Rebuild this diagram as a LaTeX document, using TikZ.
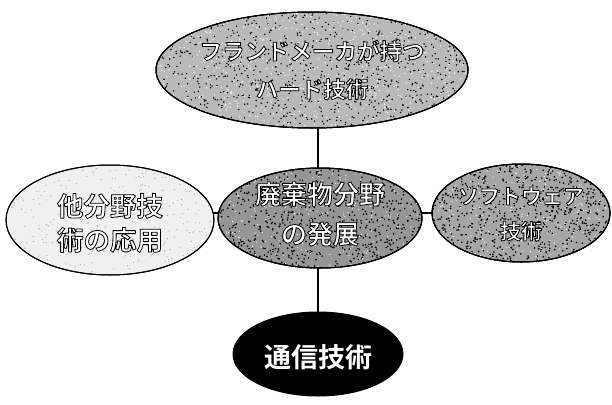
\documentclass[tikz,border=0pt]{standalone}
\usepackage{fontspec}
\newfontfamily\jp{Noto Sans CJK JP}[BoldFont={* Bold}]
\newcommand{\outl}[1]{\special{pdf:literal direct 0 G 0.8 w 1 j 2 Tr}#1\special{pdf:literal direct 0 Tr}}
\usetikzlibrary{backgrounds,shapes.geometric}
\tikzset{
  bubble/.style={draw=black, line width=1pt, ellipse, inner sep=0pt},
  lab/.style={text=white, align=center, font=\jp\bfseries},
  conn/.style={draw=black, line width=1.4pt},
}
\newcommand{\speck}[6]{% node, xr, yr, count, color, size
  \begin{scope}
    \clip (#1.center) ellipse [x radius=#2, y radius=#3];
    \foreach \i in {1,...,#4}{
      \pgfmathsetmacro\px{#2*rand}
      \pgfmathsetmacro\py{#3*rand}
      \fill[#5] ([shift={(\px,\py)}]#1.center) circle (#6);
    }
  \end{scope}
  \draw[line width=1pt] (#1.center) ellipse [x radius=#2, y radius=#3];
}
\begin{document}
\begin{tikzpicture}[x=1pt,y=-1pt]
\useasboundingbox (0,0) rectangle (612,404);
\pgfmathsetseed{7}
% ellipses
\node[bubble, fill=gray!55, minimum width=312pt, minimum height=116pt] (top) at (312,70) {};
\node[bubble, fill=gray!12, minimum width=208pt, minimum height=110pt] (left) at (110,220) {};
\node[bubble, fill=gray!82, minimum width=204pt, minimum height=100pt] (mid) at (320,218) {};
\node[bubble, fill=gray!70, minimum width=178pt, minimum height=98pt] (right) at (521,213) {};
\node[bubble, fill=black, minimum width=170pt, minimum height=84pt] (bot) at (318,354) {};
% connectors
\begin{scope}[on background layer]
  \draw[conn] ([xshift=-2pt]mid.center) -- ([xshift=-2pt]mid.center |- top.center);
  \draw[conn] ([xshift=-2pt]mid.center) -- ([xshift=-2pt]mid.center |- bot.center);
  \draw[conn] ([yshift=5pt]mid.center) -- ([yshift=5pt]mid.center -| left.center);
  \draw[conn] ([yshift=5pt]mid.center) -- ([yshift=5pt]mid.center -| right.center);
\end{scope}
% textures
\speck{top}{156}{58}{1000}{black}{0.8}
\speck{top}{156}{58}{700}{white}{0.7}
\speck{left}{104}{55}{350}{gray!70}{0.6}
\speck{mid}{102}{50}{800}{black}{0.9}
\speck{mid}{102}{50}{350}{white}{0.6}
\speck{right}{89}{49}{800}{black}{0.9}
\speck{right}{89}{49}{350}{white}{0.6}
% labels
\node[lab, font=\jp\bfseries\fontsize{22.5}{38}\selectfont] (ttop) at (top.center)
  {\outl{フランドメーカが持つ}\\\outl{ハード技術}};
\node[lab, font=\jp\bfseries\fontsize{26.5}{34}\selectfont] (tleft) at ([yshift=-3pt]left.center)
  {\outl{他分野技}\\\outl{術の応用}};
\node[lab, font=\jp\bfseries\fontsize{26}{40}\selectfont] (tmid) at ([yshift=4pt]mid.center)
  {\outl{廃棄物分野}\\\outl{の発展}};
\node[lab, font=\jp\bfseries\fontsize{21}{35}\selectfont] (tright) at ([yshift=-1pt]right.center)
  {\outl{ソフトウェア}\\\outl{技術}};
\node[lab, font=\jp\bfseries\fontsize{27}{34}\selectfont] (tbot) at ([yshift=-3pt]bot.center)
  {通信技術};
\end{tikzpicture}
\end{document}
